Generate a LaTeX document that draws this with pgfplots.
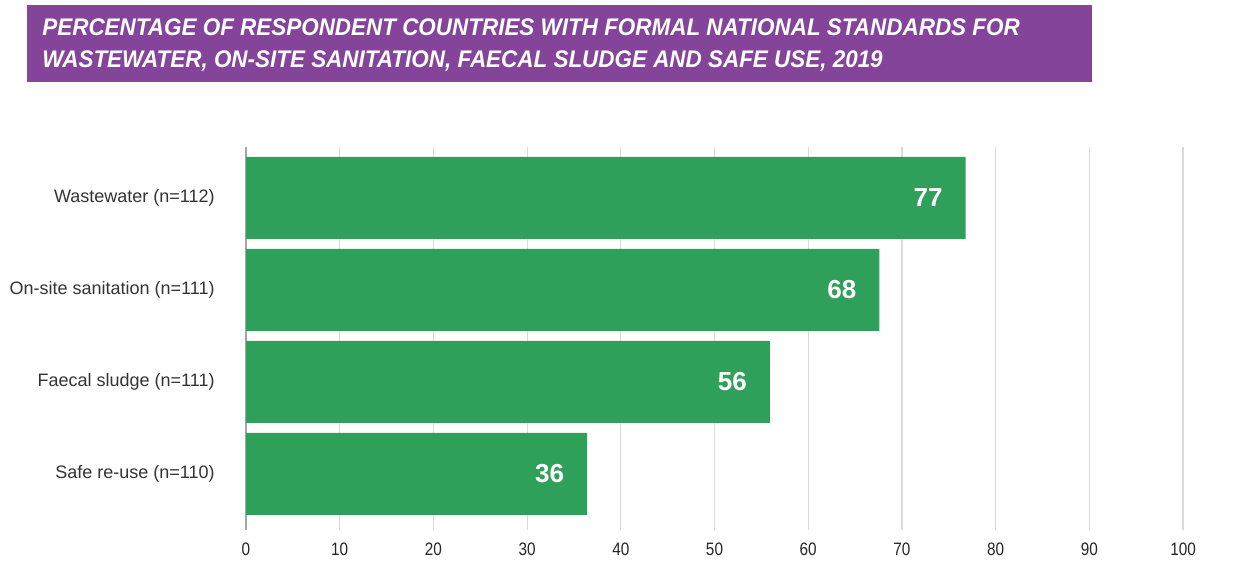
\documentclass[border=0pt]{standalone}
\usepackage{pgfplots}
\pgfplotsset{compat=1.18}
\usepackage{fontspec}
\setmainfont{Liberation Sans}
\newfontfamily\titlefont[FakeStretch=0.935]{Liberation Sans}
\newfontfamily\tickfont[FakeStretch=0.85]{Liberation Sans}
\definecolor{barg}{RGB}{46,160,90}
\definecolor{ttl}{RGB}{132,68,154}
\begin{document}
\begin{tikzpicture}
\useasboundingbox (0,0) rectangle (620pt,281pt);
\fill[ttl] (13.5pt,240pt) rectangle (546pt,278.5pt);
\node[anchor=base west, inner sep=0pt, text=white, font=\titlefont\bfseries\itshape\fontsize{12}{14}\selectfont] at (21pt,263pt) {PERCENTAGE OF RESPONDENT COUNTRIES WITH FORMAL NATIONAL STANDARDS FOR};
\node[anchor=base west, inner sep=0pt, text=white, font=\titlefont\bfseries\itshape\fontsize{12}{14}\selectfont] at (21pt,247pt) {WASTEWATER, ON-SITE SANITATION, FAECAL SLUDGE AND SAFE USE, 2019};
\begin{axis}[
  at={(123pt,16pt)}, anchor=south west,
  scale only axis, width=468.5pt, height=191.5pt,
  xbar, bar width=41pt,
  xmin=0, xmax=100, ymin=-0.61, ymax=3.554,
  xtick={0,10,...,100}, ytick={0,1,2,3},
  yticklabels={Safe re-use (n=110), Faecal sludge (n=111), On-site sanitation (n=111), Wastewater (n=112)},
  axis y line*=left, axis x line*=bottom,
  x axis line style={draw=none},
  y axis line style={draw=black!35, line width=0.6pt},
  xmajorgrids, major grid style={draw=black!14, line width=0.6pt},
  major tick length=0pt, tick style={draw=none},
  xticklabel style={inner sep=0pt, yshift=-6.5pt, font=\tickfont\fontsize{9}{10}\selectfont, text=black!85},
  yticklabel style={inner sep=0pt, xshift=-15.5pt, font=\fontsize{9}{10}\selectfont, text=black!80},
  /pgf/number format/assume math mode=true,
  point meta=x,
  nodes near coords={\pgfmathprintnumber[fixed,precision=0]{\pgfplotspointmeta}},
  every node near coord/.append style={anchor=east, xshift=-8pt, text=white, font=\bfseries\fontsize{13}{14}\selectfont},
]
\addplot[draw=none, fill=barg] coordinates {(36.4,0) (55.9,1) (67.6,2) (76.8,3)};
\end{axis}
\end{tikzpicture}
\end{document}
